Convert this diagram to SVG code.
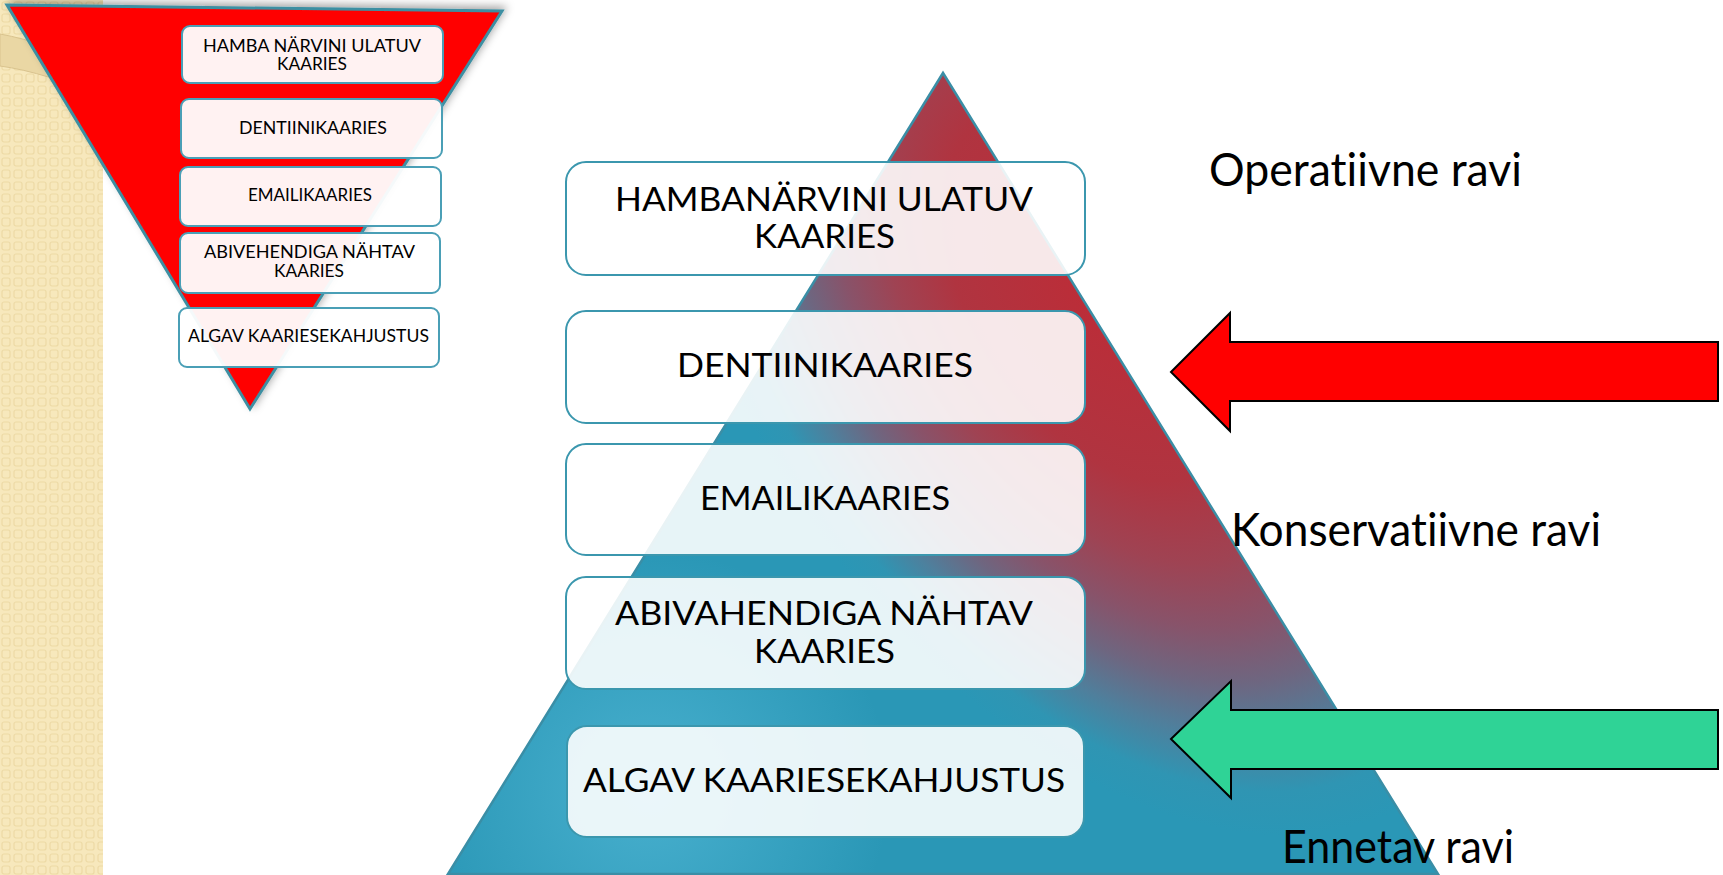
<svg xmlns="http://www.w3.org/2000/svg" width="1723" height="875" viewBox="0 0 1723 875">
  <defs>
    <style>
      text { font-variant-ligatures: none; font-feature-settings: "liga" 0, "clig" 0; }
      .sbox { fill: #ffffff; fill-opacity: 0.95; stroke: #4a9fb6; stroke-width: 2; }
      .bbox { fill: #ffffff; fill-opacity: 0.89; stroke: #3b97ae; stroke-width: 2; }
      .st { font-family: Lato, "Liberation Sans", sans-serif; font-size: 17px; fill: #000; text-anchor: middle; }
      .bt { font-family: Lato, "Liberation Sans", sans-serif; font-size: 33.5px; fill: #000; text-anchor: middle; }
      .lbl { font-family: Lato, "Liberation Sans", sans-serif; font-size: 46px; fill: #000; }
      .arrow { stroke: #000; stroke-width: 2; stroke-linejoin: miter; }
    </style>
    <pattern id="beige" x="0" y="0" width="12" height="12" patternUnits="userSpaceOnUse">
      <rect width="12" height="12" fill="#f7e8bc"/>
      <rect x="2" y="2" width="8" height="8" rx="2" fill="none" stroke="#eddaa5" stroke-width="1.2"/>
    </pattern>
    <radialGradient id="pyrGrad" gradientUnits="userSpaceOnUse" cx="0" cy="0" r="1" gradientTransform="translate(1100 290) rotate(58) scale(600 370)">
      <stop offset="0" stop-color="#bd2c37"/>
      <stop offset="0.35" stop-color="#b03440"/>
      <stop offset="0.5" stop-color="#9f4353"/>
      <stop offset="0.62" stop-color="#88536a"/>
      <stop offset="0.72" stop-color="#6e6680"/>
      <stop offset="0.82" stop-color="#4f7f9c"/>
      <stop offset="0.92" stop-color="#2f95b3"/>
      <stop offset="1" stop-color="#2a97b6"/>
    </radialGradient>
    <radialGradient id="glow" gradientUnits="userSpaceOnUse" cx="650" cy="790" r="240">
      <stop offset="0" stop-color="#5cc0de" stop-opacity="0.6"/>
      <stop offset="1" stop-color="#5cc0de" stop-opacity="0"/>
    </radialGradient>
    <filter id="shadow" x="-10%" y="-10%" width="120%" height="120%">
      <feDropShadow dx="3" dy="-3" stdDeviation="4" flood-color="#000" flood-opacity="0.35"/>
    </filter>
  </defs>

  <rect width="1723" height="875" fill="#ffffff"/>

  <g id="left-strip">
    <rect x="0" y="0" width="103" height="875" fill="url(#beige)"/>
    <path d="M 0 34 Q 45 42 110 72 L 110 100 Q 45 72 0 66 Z" fill="#ead7a4" stroke="#d9c38e" stroke-width="1"/>
  </g>

  <g id="small-pyramid">
    <polygon points="7,5 502,11 250,409" fill="#ff0000" stroke="#3d8fa2" stroke-width="3" stroke-linejoin="miter" filter="url(#shadow)"/>
  </g>

  <g id="small-box-1">
    <rect class="sbox" x="182" y="26" width="261" height="57" rx="8"/>
    <text class="st" x="312" y="51.5" textLength="218" lengthAdjust="spacingAndGlyphs">HAMBA NÄRVINI ULATUV</text>
    <text class="st" x="312" y="70" textLength="70" lengthAdjust="spacingAndGlyphs">KAARIES</text>
  </g>
  <g id="small-box-2">
    <rect class="sbox" x="181" y="99" width="261" height="59" rx="8"/>
    <text class="st" x="313" y="134" textLength="148" lengthAdjust="spacingAndGlyphs">DENTIINIKAARIES</text>
  </g>
  <g id="small-box-3">
    <rect class="sbox" x="180" y="167" width="261" height="59" rx="8"/>
    <text class="st" x="310" y="201" textLength="124" lengthAdjust="spacingAndGlyphs">EMAILIKAARIES</text>
  </g>
  <g id="small-box-4">
    <rect class="sbox" x="180" y="233" width="260" height="60" rx="8"/>
    <text class="st" x="309.5" y="258" textLength="211" lengthAdjust="spacingAndGlyphs">ABIVEHENDIGA NÄHTAV</text>
    <text class="st" x="309" y="277" textLength="70" lengthAdjust="spacingAndGlyphs">KAARIES</text>
  </g>
  <g id="small-box-5">
    <rect class="sbox" x="179" y="308" width="260" height="59" rx="8"/>
    <text class="st" x="308.5" y="342" textLength="241" lengthAdjust="spacingAndGlyphs">ALGAV KAARIESEKAHJUSTUS</text>
  </g>

  <g id="big-pyramid">
    <polygon points="943,73 448,874 1438,874" fill="url(#pyrGrad)"/>
    <polygon points="943,73 448,874 1438,874" fill="url(#glow)" stroke="#3a8ea6" stroke-width="2.5" stroke-linejoin="miter"/>
  </g>

  <g id="box-hambanarvini">
    <rect class="bbox" x="566" y="162" width="519" height="113" rx="20"/>
    <text class="bt" x="824" y="211" textLength="418" lengthAdjust="spacingAndGlyphs">HAMBANÄRVINI ULATUV</text>
    <text class="bt" x="824.5" y="248" textLength="141" lengthAdjust="spacingAndGlyphs">KAARIES</text>
  </g>
  <g id="box-dentiinikaaries">
    <rect class="bbox" x="566" y="311" width="519" height="112" rx="20"/>
    <text class="bt" x="825" y="377" textLength="296" lengthAdjust="spacingAndGlyphs">DENTIINIKAARIES</text>
  </g>
  <g id="box-emailikaaries">
    <rect class="bbox" x="566" y="444" width="519" height="111" rx="20"/>
    <text class="bt" x="825" y="510" textLength="250" lengthAdjust="spacingAndGlyphs">EMAILIKAARIES</text>
  </g>
  <g id="box-abivahendiga">
    <rect class="bbox" x="566" y="577" width="519" height="112" rx="20"/>
    <text class="bt" x="824" y="625" textLength="418" lengthAdjust="spacingAndGlyphs">ABIVAHENDIGA NÄHTAV</text>
    <text class="bt" x="824.5" y="663" textLength="141" lengthAdjust="spacingAndGlyphs">KAARIES</text>
  </g>
  <g id="box-algav">
    <rect class="bbox" x="567" y="726" width="517" height="111" rx="20"/>
    <text class="bt" x="824" y="792" textLength="482" lengthAdjust="spacingAndGlyphs">ALGAV KAARIESEKAHJUSTUS</text>
  </g>

  <g id="connectors">
    <polygon class="arrow" fill="#ff0000" points="1171,372 1230,313 1230,342 1718,342 1718,401 1230,401 1230,431"/>
    <polygon class="arrow" fill="#2fd396" points="1171,739 1231,681 1231,710 1718,710 1718,769 1231,769 1231,798"/>
  </g>

  <g id="labels">
    <text class="lbl" x="1209" y="186" textLength="313" lengthAdjust="spacingAndGlyphs">Operatiivne ravi</text>
    <text class="lbl" x="1231" y="546" textLength="370" lengthAdjust="spacingAndGlyphs">Konservatiivne ravi</text>
    <text class="lbl" x="1282" y="863" textLength="232" lengthAdjust="spacingAndGlyphs">Ennetav ravi</text>
  </g>
</svg>
